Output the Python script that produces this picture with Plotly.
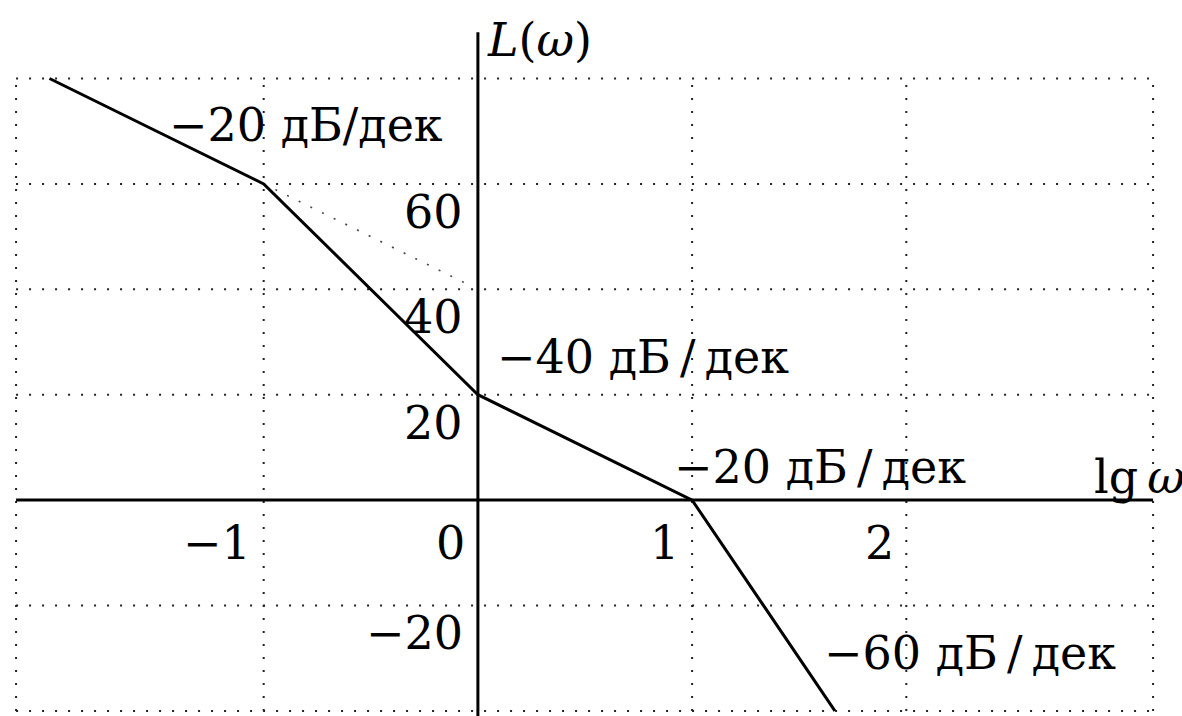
import plotly.graph_objects as go

# Asymptotic log-magnitude characteristic L(ω), dB, versus lg ω
lg_omega = [-2, -1, 0, 1, 5 / 3]
L_db = [80, 60, 20, 0, -40]

# Continuation of the initial −20 dB/dec asymptote past the first corner
ext_lg_omega = [-1, -0.06]
ext_L_db = [60, 41.2]

# Slope labels along the segments
slope_text = ["−20 дБ/дек", "−40 дБ\u2009/\u2009дек", "−20 дБ\u2009/\u2009дек", "−60 дБ\u2009/\u2009дек"]
slope_x = [-1.451, 0.080, 0.906, 1.606]
slope_y = [71.2, 27.2, 6.3, -29.0]

# Tick labels
x_ticks = [-1, 0, 1, 2]
x_tick_text = ["−1", "0", "1", "2"]
y_ticks = [60, 40, 20, -20]
y_tick_text = ["60", "40", "20", "−20"]

# Dotted grid and frame
grid_x = [-1, 1, 2]
grid_y = [80, 60, 40, 20, -20, -40]
frame_x = [-2.156, 3.152]
frame_y = [-40, 80]

X_RANGE = [-2.231, 3.287]
Y_RANGE = [-40.97, 94.9]
Y_AXIS_TOP = 88.8

FONT = "DejaVu Serif"
DOT = "2px,11px"

fig = go.Figure()

# grid lines (horizontal + vertical, including the frame edges)
gx, gy = [], []
for v in grid_y:
    gx += [frame_x[0], frame_x[1], None]
    gy += [v, v, None]
for v in grid_x + frame_x:
    gx += [v, v, None]
    gy += [frame_y[0], frame_y[1], None]
fig.add_trace(go.Scatter(x=gx, y=gy, mode="lines",
                         line=dict(color="#222", width=2, dash=DOT),
                         hoverinfo="skip"))

# dotted extension of the first asymptote
fig.add_trace(go.Scatter(x=ext_lg_omega, y=ext_L_db, mode="lines",
                         line=dict(color="#444", width=1.6, dash=DOT),
                         hoverinfo="skip"))

# coordinate axes
fig.add_trace(go.Scatter(x=[frame_x[0], frame_x[1]], y=[0, 0], mode="lines",
                         line=dict(color="black", width=3), hoverinfo="skip"))
fig.add_trace(go.Scatter(x=[0, 0], y=[Y_RANGE[0], Y_AXIS_TOP], mode="lines",
                         line=dict(color="black", width=3), hoverinfo="skip"))

# the characteristic itself
fig.add_trace(go.Scatter(x=lg_omega, y=L_db, mode="lines",
                         line=dict(color="black", width=3)))

ann = []
for t, x, y in zip(slope_text, slope_x, slope_y):
    ann.append(dict(x=x, y=y, text=t, xanchor="left", yanchor="middle"))
for v, t in zip(x_ticks, x_tick_text):
    ann.append(dict(x=v - 0.05, y=-8.1, text=t, xanchor="right", yanchor="middle"))
for v, t in zip(y_ticks, y_tick_text):
    ann.append(dict(x=-0.06, y=v - 5.3, text=t, xanchor="right", yanchor="middle"))
ann.append(dict(x=0.033, y=87.3, text="<i>L</i>(<i>ω</i>)", xanchor="left", yanchor="middle"))
ann.append(dict(x=2.867, y=4.4, text="lg\u2009<i>ω</i>", xanchor="left", yanchor="middle"))
for a in ann:
    a.update(showarrow=False, font=dict(family=FONT, size=46, color="black"))

fig.update_layout(
    width=1182, height=716,
    margin=dict(l=0, r=0, t=0, b=0),
    paper_bgcolor="white", plot_bgcolor="white",
    showlegend=False,
    xaxis=dict(range=X_RANGE, visible=False, fixedrange=True),
    yaxis=dict(range=Y_RANGE, visible=False, fixedrange=True),
    annotations=ann,
)

fig.write_html("out.html")
